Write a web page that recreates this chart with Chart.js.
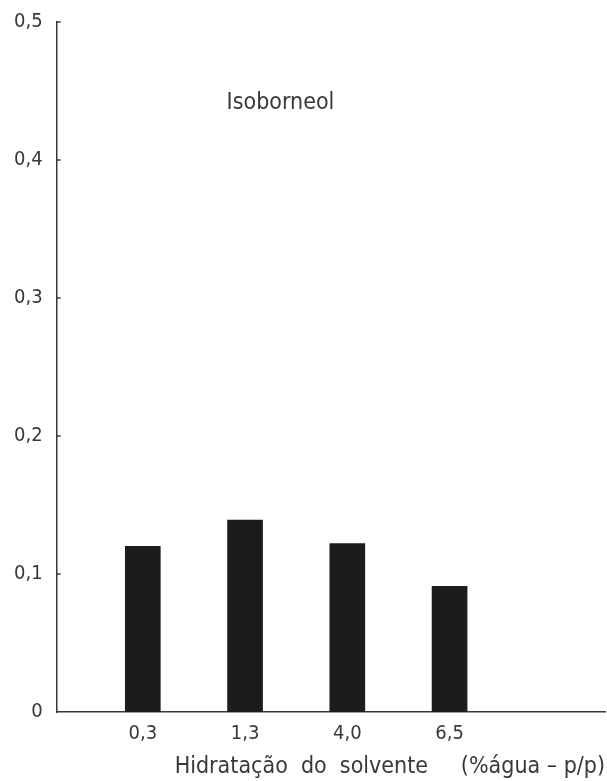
<!DOCTYPE html>
<html>
<head>
<meta charset="utf-8">
<script src="https://cdn.jsdelivr.net/npm/chart.js@4.4.1/dist/chart.umd.min.js"></script>
<style>
  html, body { margin: 0; padding: 0; background: #fff; }
  #wrap { width: 607px; height: 781px; }
</style>
</head>
<body>
<div id="wrap"><canvas id="chart" width="607" height="781"></canvas></div>
<script>
// Chart data
const categories = ['0,3', '1,3', '4,0', '6,5'];
const values = [0.120, 0.139, 0.122, 0.091];
const yTicks = [0, 0.1, 0.2, 0.3, 0.4, 0.5];
const seriesName = 'Isoborneol';
const xTitle = 'Hidratação  do  solvente     (%água – p/p)';

const fontFamily = '"DejaVu Sans Condensed", "DejaVu Sans", sans-serif';
const inkColor = '#383838';

// Short inward tick marks on the y axis, plus the in-plot label
const decorPlugin = {
  id: 'decor',
  afterDraw(chart) {
    const ctx = chart.ctx;
    const y = chart.scales.y;
    const area = chart.chartArea;
    ctx.save();
    ctx.strokeStyle = inkColor;
    ctx.lineWidth = 1.5;
    y.ticks.forEach(t => {
      if (t.value === 0) return;
      const py = y.getPixelForValue(t.value);
      ctx.beginPath();
      ctx.moveTo(area.left, py);
      ctx.lineTo(area.left + 4, py);
      ctx.stroke();
    });
    ctx.fillStyle = inkColor;
    ctx.font = '23px ' + fontFamily;
    ctx.textBaseline = 'top';
    ctx.fillText(seriesName, area.left + 170, area.top + 70);
    ctx.restore();
  }
};

const ctx = document.getElementById('chart').getContext('2d');
new Chart(ctx, {
  type: 'bar',
  data: {
    datasets: [{
      label: seriesName,
      data: values.map((v, i) => ({ x: i + 1, y: v })),
      backgroundColor: '#1c1c1c',
      borderWidth: 0,
      barThickness: 35
    }]
  },
  options: {
    responsive: false,
    animation: false,
    layout: { padding: { top: 0, right: 2, left: 0, bottom: 0 } },
    plugins: {
      legend: { display: false },
      tooltip: { enabled: false }
    },
    scales: {
      x: {
        type: 'linear',
        offset: false,
        bounds: 'data',
        min: 0.157,
        max: 5.52,
        afterBuildTicks: scale => {
          scale.ticks = categories.map((c, i) => ({ value: i + 1 }));
        },
        ticks: {
          callback: v => categories[v - 1] || '',
          color: inkColor,
          font: { family: fontFamily, size: 20 },
          padding: 10,
          maxRotation: 0,
          autoSkip: false
        },
        grid: { display: false, drawTicks: false },
        border: { display: true, color: inkColor, width: 1.5 },
        title: {
          display: true,
          text: xTitle,
          align: 'end',
          color: inkColor,
          font: { family: fontFamily, size: 23, lineHeight: 1 },
          padding: { top: 0, bottom: 2 }
        }
      },
      y: {
        min: 0,
        max: 0.5,
        afterBuildTicks: scale => {
          scale.ticks = yTicks.map(v => ({ value: v }));
        },
        ticks: {
          callback: v => String(v).replace('.', ','),
          color: inkColor,
          font: { family: fontFamily, size: 20, lineHeight: 0.8 },
          padding: 14
        },
        grid: { display: false, drawTicks: false },
        border: { display: true, color: inkColor, width: 1.5 }
      }
    }
  },
  plugins: [decorPlugin]
});
</script>
</body>
</html>
